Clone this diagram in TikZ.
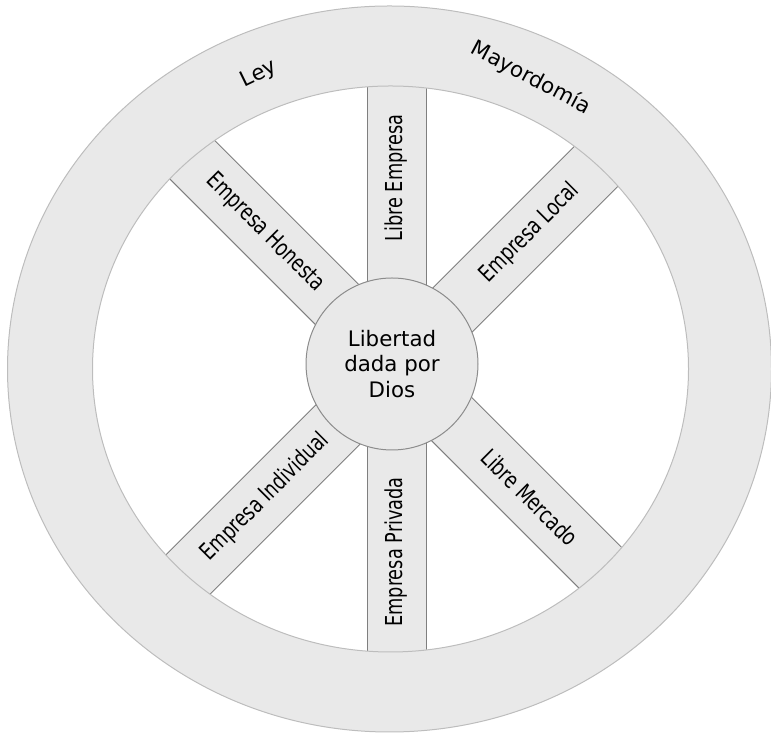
\documentclass[tikz,border=0pt]{standalone}
\usepackage{fontspec}
\setmainfont{DejaVu Sans}
\newfontfamily\spokefont{DejaVu Sans}[FakeStretch=0.76]
\usepackage{tikz}
\definecolor{wheelfill}{HTML}{E9E9E9}
\definecolor{rimline}{HTML}{BDBDBD}
\definecolor{spokeline}{HTML}{7F7F7F}
\definecolor{hubline}{HTML}{8C8C8C}
\tikzset{spoke/.style={draw=spokeline, line width=0.75pt, fill=wheelfill, rectangle, minimum width=187.5pt, minimum height=44.25pt, inner sep=0pt, font=\spokefont\fontsize{17.5}{20}\selectfont}}
\tikzset{hub/.style={draw=hubline, line width=0.75pt, fill=wheelfill, circle, minimum size=129pt, inner sep=0pt, align=center, font=\fontsize{16}{19}\selectfont}}
\tikzset{rimlabel/.style={inner sep=0pt, font=\fontsize{16}{19}\selectfont}}

\begin{document}
\begin{tikzpicture}[x=0.75pt, y=0.75pt]
\useasboundingbox (0,0) rectangle (771,734);
\node[spoke, rotate=90] (s1) at (396.5,556) {Libre Empresa};
\node[spoke, rotate=90] (s5) at (396.5,182) {Empresa Privada};
\node[spoke, rotate=45] (s2) at (529.7,501.2) {Empresa Local};
\node[spoke, rotate=45] (s6) at (265.3,236.8) {Empresa Individual};
\node[spoke, rotate=-45] (s8) at (265.3,501.2) {Empresa Honesta};
\node[spoke, rotate=-45] (s4) at (529.7,236.8) {Libre Mercado};
\fill[wheelfill, even odd rule] (389.5,365) ellipse [x radius=382, y radius=363]
  (390.5,365) ellipse [x radius=298, y radius=283];
\draw[rimline, line width=0.75pt] (389.5,365) ellipse [x radius=382, y radius=363];
\draw[rimline, line width=0.75pt] (390.5,365) ellipse [x radius=298, y radius=283];
\node[rimlabel, rotate=26] (ley) at (259,660) {Ley};
\node[rimlabel, rotate=-28] (may) at (531,656) {Mayordomía};
\node[hub] (h) at (392,370) {Libertad\\dada por\\Dios};
\end{tikzpicture}
\end{document}
